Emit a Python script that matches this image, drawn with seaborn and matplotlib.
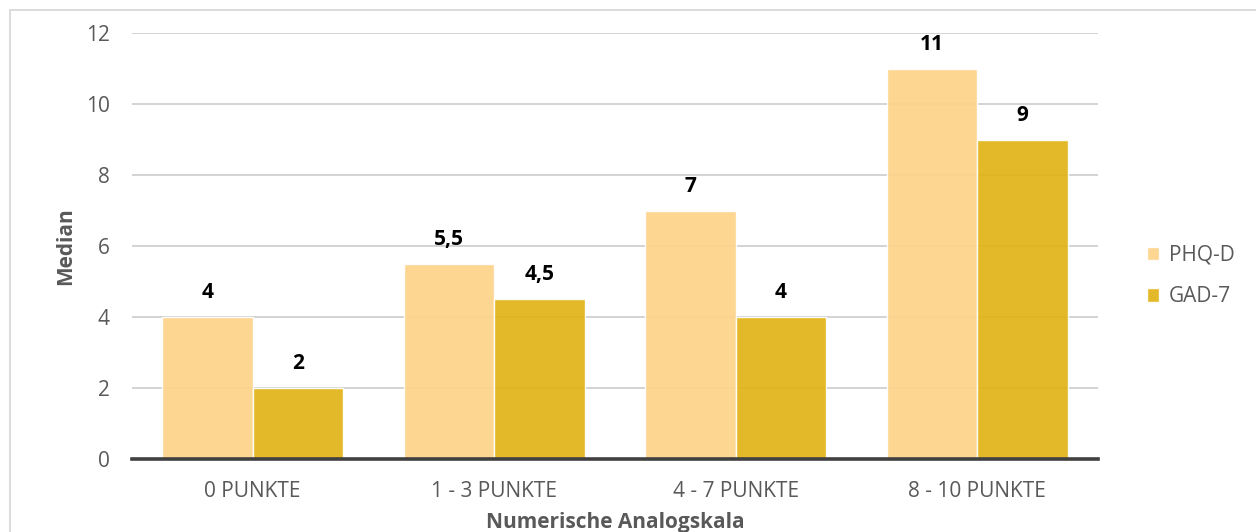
import matplotlib
matplotlib.use("Agg")
import matplotlib.pyplot as plt
from matplotlib.patches import Rectangle
import seaborn as sns
import pandas as pd

# Median scores per NAS group
categories = ["0 PUNKTE", "1 - 3 PUNKTE", "4 - 7 PUNKTE", "8 - 10 PUNKTE"]
phq_d = [4, 5.5, 7, 11]
gad_7 = [2, 4.5, 4, 9]
series_names = ["PHQ-D", "GAD-7"]
y_ticks = [0, 2, 4, 6, 8, 10, 12]

df = pd.DataFrame({
    "Kategorie": categories * 2,
    "Wert": phq_d + gad_7,
    "Skala": [series_names[0]] * len(categories) + [series_names[1]] * len(categories),
})

sns.set_theme(style="white")
plt.rcParams["font.family"] = ["Open Sans", "DejaVu Sans"]

txt = "#595959"
fs = 15
palette = {"PHQ-D": "#FDD389", "GAD-7": "#E1B317"}

fig = plt.figure(figsize=(12.56, 5.32), dpi=100)
ax = fig.add_axes([132 / 1256, 1 - 459 / 532, (1098 - 132) / 1256, (459 - 33) / 532])

sns.barplot(data=df, x="Kategorie", y="Wert", hue="Skala", order=categories,
            hue_order=series_names, palette=palette, width=0.75, saturation=1,
            edgecolor="white", linewidth=1.0, alpha=0.92, ax=ax, zorder=3)

ax.set_ylim(0, 12)
ax.set_yticks(y_ticks)
ax.yaxis.grid(True, color="#C8C8C8", linewidth=1.1, zorder=0)
ax.set_axisbelow(True)
for s in ["left", "right", "top"]:
    ax.spines[s].set_visible(False)
ax.spines["bottom"].set_color("#404040")
ax.spines["bottom"].set_linewidth(2.6)
ax.spines["bottom"].set_zorder(5)

ax.tick_params(axis="both", length=0, labelsize=fs, colors=txt)
ax.tick_params(axis="x", pad=16)
ax.tick_params(axis="y", pad=16)

ax.set_xlabel("Numerische Analogskala", fontsize=fs, fontweight="bold", color=txt, labelpad=7)
ax.set_ylabel("Median", fontsize=fs, fontweight="bold", color=txt, labelpad=7)


def fmt(v):
    return (f"{v:g}").replace(".", ",")


for cont, vals in zip(ax.containers, [phq_d, gad_7]):
    ax.bar_label(cont, labels=[fmt(v) for v in vals], padding=10,
                 fontsize=fs, fontweight="bold", color="black")

handles, labels = ax.get_legend_handles_labels()
ax.legend(handles, labels, loc="center left", bbox_to_anchor=(1128 / 1256, 256 / 532),
          bbox_transform=fig.transFigure, frameon=False, fontsize=fs,
          labelcolor=txt, handlelength=0.6, handleheight=0.6, handletextpad=0.45,
          labelspacing=1.0)

# light outer frame
fig.add_artist(Rectangle((10 / 1256, -0.1), 1.2, 1.1 - 10 / 532,
                         transform=fig.transFigure, fill=False,
                         edgecolor="#D9D9D9", linewidth=1.3))

fig.savefig("out.png", dpi=100, facecolor="white")
